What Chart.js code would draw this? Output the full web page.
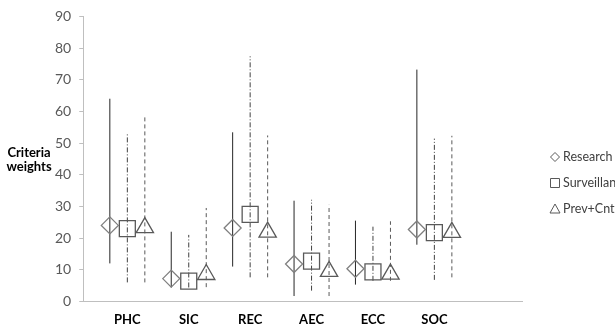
<!DOCTYPE html>
<html><head><meta charset="utf-8">
<script src="https://cdn.jsdelivr.net/npm/chart.js@4"></script>
<style>html,body{margin:0;padding:0;background:#fff;overflow:hidden}#wrap{width:615px;height:334px;position:relative}</style>
</head><body><div id="wrap"><canvas id="c" width="615" height="334"></canvas></div>
<script>
const categories = ['PHC','SIC','REC','AEC','ECC','SOC'];
const seriesNames = ['Research','Surveillance','Prev+Cntrl'];
const researchMid  = [24.0, 7.2, 23.2, 11.8, 10.3, 22.7];
const researchLow  = [12.0, 4.4, 11.0, 1.7, 5.3, 17.9];
const researchHigh = [64.0, 22.0, 53.4, 31.8, 25.5, 73.2];
const survMid  = [23.0, 6.4, 27.5, 12.7, 9.3, 21.7];
const survLow  = [6.0, 4.4, 7.6, 3.4, 6.5, 6.8];
const survHigh = [52.8, 21.0, 77.4, 32.1, 23.6, 51.4];
const prevMid  = [23.3, 8.5, 21.9, 9.5, 8.6, 21.8];
const prevLow  = [6.0, 4.5, 7.6, 1.7, 6.5, 7.6];
const prevHigh = [59.0, 29.5, 52.4, 30.5, 25.3, 52.3];
const yTicks = [0,10,20,30,40,50,60,70,80,90];
const yTitle = ['Criteria','weights'];

const FONT = 'Lato, "Open Sans", sans-serif';
const offsets = [-0.285, 0, 0.285];
const styles = [
  {line:'#262626', dash:[], mark:'#808080', shape:'rectRot', r:8.5},
  {line:'#404040', dash:[5,2,1,2], mark:'#595959', shape:'rect', r:11.3},
  {line:'#595959', dash:[4,3], mark:'#595959', shape:'triangle', r:10}
];
const mids = [researchMid, survMid, prevMid];
const lows = [researchLow, survLow, prevLow];
const highs = [researchHigh, survHigh, prevHigh];

const datasets = [];
seriesNames.forEach((name, s) => {
  const pts = [];
  categories.forEach((c, i) => {
    const x = i + 1 + offsets[s];
    pts.push({x, y: lows[s][i]}, {x, y: highs[s][i]}, {x, y: null});
  });
  datasets.push({label: name + ' range', data: pts, showLine: true, spanGaps: false,
    borderColor: styles[s].line, borderWidth: 1, borderDash: styles[s].dash,
    pointRadius: 0, pointHoverRadius: 0, order: 2});
});
seriesNames.forEach((name, s) => {
  datasets.push({label: name,
    data: categories.map((c, i) => ({x: i + 1 + offsets[s], y: mids[s][i]})),
    showLine: false, pointStyle: styles[s].shape, pointRadius: styles[s].r,
    pointBorderColor: styles[s].mark, pointBackgroundColor: 'rgba(0,0,0,0)',
    pointBorderWidth: 1.3, order: 1});
});

const extras = {
  id: 'extras',
  afterDraw(chart) {
    const ctx = chart.ctx;
    ctx.save();
    ctx.fillStyle = '#000';
    ctx.font = 'bold 13px ' + FONT;
    ctx.textAlign = 'center';
    ctx.textBaseline = 'middle';
    ctx.fillText(yTitle[0], 29, 153);
    ctx.fillText(yTitle[1], 29, 167);
    const rows = [157, 183, 209];
    ctx.font = '12.5px ' + FONT;
    ctx.textAlign = 'left';
    seriesNames.forEach((name, s) => {
      const y = rows[s], x = 555;
      ctx.strokeStyle = '#595959';
      ctx.lineWidth = 1;
      ctx.beginPath();
      if (s === 0) { ctx.moveTo(x, y-4.5); ctx.lineTo(x+4.5, y); ctx.lineTo(x, y+4.5); ctx.lineTo(x-4.5, y); ctx.closePath(); }
      else if (s === 1) { ctx.rect(x-4.5, y-4.5, 9, 9); }
      else { ctx.moveTo(x, y-5); ctx.lineTo(x+5, y+4); ctx.lineTo(x-5, y+4); ctx.closePath(); }
      ctx.stroke();
      ctx.fillStyle = '#404040';
      ctx.fillText(name, 563, y);
    });
    ctx.restore();
  }
};

new Chart(document.getElementById('c'), {
  type: 'scatter',
  data: {datasets},
  options: {
    responsive: false, animation: false,
    layout: {padding: {left: 47, right: 93, top: 15, bottom: -5}},
    plugins: {legend: {display: false}, tooltip: {enabled: false}},
    scales: {
      x: {type: 'linear', min: 0.282, max: 7.427,
        afterBuildTicks: (ax) => { ax.ticks = categories.map((c, i) => ({value: i + 1})); },
        ticks: {autoSkip: false, maxRotation: 0, minRotation: 0, padding: 11, color: '#000', font: {family: FONT, size: 13, weight: 'bold'},
          callback: (v) => categories[Math.round(v) - 1] || ''},
        grid: {display: false, drawTicks: false},
        border: {display: true, color: '#bfbfbf', width: 1}
      },
      y: {min: 0, max: 90,
        afterBuildTicks: (ax) => { ax.ticks = yTicks.map(v => ({value: v})); },
        ticks: {padding: 8, color: '#595959', font: {family: FONT, size: 14}},
        grid: {display: true, drawOnChartArea: false, drawTicks: true, tickLength: 4, color: '#bfbfbf'},
        border: {display: true, color: '#bfbfbf', width: 1}
      }
    }
  },
  plugins: [extras]
});
</script></body></html>
